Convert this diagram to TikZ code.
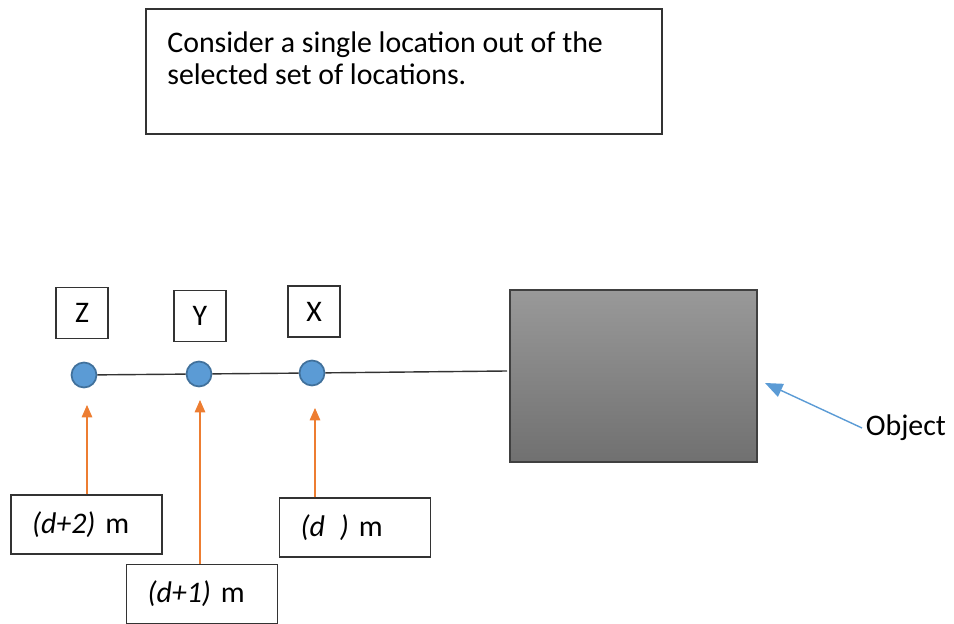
\documentclass[tikz,border=0pt]{standalone}
\usepackage{fontspec}
\setmainfont{Carlito}
\usetikzlibrary{arrows.meta,positioning}
\definecolor{ptblue}{RGB}{91,155,213}
\definecolor{ptblueline}{RGB}{65,113,156}
\definecolor{ptorange}{RGB}{237,125,49}

\begin{document}
\begin{tikzpicture}[x=0.02cm, y=-0.02cm,
  font=\fontsize{17}{18.6}\selectfont,
  lbox/.style={rectangle, draw=black!80, line width=0.8pt,
               minimum width=1.04cm, minimum height=1.02cm, inner sep=0pt},
  dbox/.style={rectangle, draw=black!80, line width=0.8pt,
               minimum width=3.02cm, minimum height=1.18cm,
               text width=2.18cm, inner xsep=0.42cm, align=left},
  loc/.style={circle, fill=ptblue, draw=ptblueline, line width=1pt,
              minimum size=0.5cm, inner sep=0pt},
  oarr/.style={-{Triangle[length=7pt, width=6pt]}, draw=ptorange, line width=0.6pt},
  barr/.style={-{Triangle[length=10pt, width=8pt]}, draw=ptblue, line width=0.8pt}
]
\useasboundingbox (0,0) rectangle (954,624);

% Note box
\node[rectangle, draw=black!80, line width=0.8pt, minimum width=10.32cm,
      minimum height=2.5cm] (note) at (404,71.5) {};
\node[anchor=north west, inner sep=0pt, align=left] (notetxt) at (167,31)
  {Consider a single location out of the\\selected set of locations.};

% Locations
\node[loc] (zc) at (84,375) {};
\node[loc] (yc) at (199,374) {};
\node[loc] (xc) at (312,373) {};
\coordinate (lend) at (507,371);
\draw[line width=0.8pt, black!80] (zc) -- (yc) -- (xc) -- (lend);

\node[lbox] (zl) at (82,313) {Z};
\node[lbox] (yl) at (200,316) {Y};
\node[lbox] (xl) at (314,311.5) {X};

% Object
\node[rectangle, draw=black!75, line width=0.8pt, top color=black!40,
      bottom color=black!56, minimum width=4.94cm, minimum height=3.44cm] (obj) at (633.5,376) {};
\node[anchor=west, inner sep=2pt] (objl) at (862,428) {Object};
\coordinate (otip) at (765,383);
\draw[barr] (objl.west) -- (otip);

% Distance boxes
\node[dbox] (dz) at (86.5,524.5) {{\itshape(d+2)} m};
\node[dbox] (dy) at (202,594) {{\itshape(d+1)} m};
\node[dbox] (dx) at (355,527.5) {{\itshape(d\hspace{0.3cm})} m};

\coordinate (tz) at (87,405);
\coordinate (ty) at (200,400);
\coordinate (tx) at (315,408);
\draw[oarr] (dz.north -| tz) -- (tz);
\draw[oarr] (dy.north -| ty) -- (ty);
\draw[oarr] (dx.north -| tx) -- (tx);
\end{tikzpicture}
\end{document}
